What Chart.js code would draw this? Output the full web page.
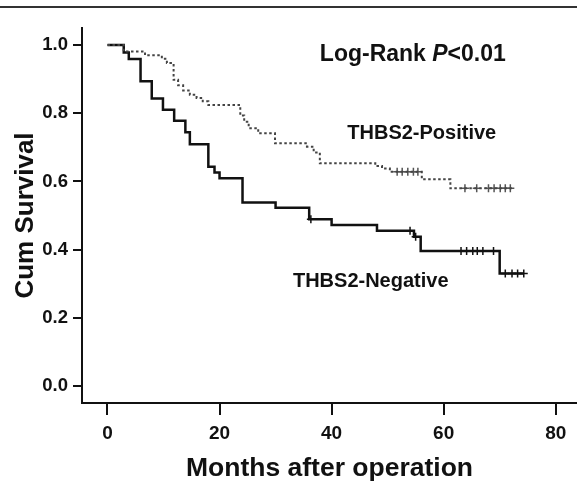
<!DOCTYPE html>
<html>
<head>
<meta charset="utf-8">
<script src="https://cdn.jsdelivr.net/npm/chart.js@4.4.1/dist/chart.umd.min.js"></script>
<style>
  html, body { margin: 0; padding: 0; background: #fff; }
  #wrap { width: 577px; height: 484px; position: relative; }
</style>
</head>
<body>
<div id="wrap"><canvas id="kmChart"></canvas></div>
<script>
// THBS2-Negative: month of each drop, survival right after it (last point = end of follow-up)
const negTimes = [0, 2.9, 3.8, 5.9, 7.9, 9.9, 11.9, 13.9, 14.7, 18.0, 19.1, 20.0, 24.1, 30.0, 36.0, 40.0, 48.1, 54.7, 55.9, 70.0, 74.3];
const negSurv  = [1.0, 0.978, 0.959, 0.894, 0.843, 0.810, 0.778, 0.744, 0.709, 0.643, 0.626, 0.609, 0.538, 0.523, 0.489, 0.472, 0.455, 0.438, 0.396, 0.330, 0.330];
const negCensorTimes = [36.3, 54.0, 55.0, 63.1, 64.1, 65.2, 66.0, 67.0, 68.9, 71.0, 72.2, 73.2, 74.3];
const negCensorSurv  = [0.489, 0.455, 0.438, 0.396, 0.396, 0.396, 0.396, 0.396, 0.396, 0.330, 0.330, 0.330, 0.330];

// THBS2-Positive
const posTimes = [0, 2.9, 6.7, 9.7, 10.6, 11.8, 12.6, 13.5, 14.7, 15.9, 17.0, 18.0, 23.7, 24.4, 25.2, 26.9, 29.9, 35.6, 36.8, 37.9, 47.8, 49.0, 50.4, 56.1, 61.2, 72.4];
const posSurv  = [1.0, 0.981, 0.970, 0.960, 0.947, 0.898, 0.882, 0.867, 0.854, 0.845, 0.835, 0.824, 0.793, 0.775, 0.756, 0.741, 0.712, 0.702, 0.685, 0.653, 0.645, 0.638, 0.628, 0.606, 0.580, 0.580];
const posCensorTimes = [51.7, 52.6, 53.6, 54.6, 55.4, 63.8, 65.9, 68.0, 69.0, 70.1, 71.0, 71.9];
const posCensorSurv  = [0.628, 0.628, 0.628, 0.628, 0.628, 0.580, 0.580, 0.580, 0.580, 0.580, 0.580, 0.580];

const xTicks = [0, 20, 40, 60, 80];
const yTicks = [0.0, 0.2, 0.4, 0.6, 0.8, 1.0];

const FONT = '"Liberation Sans", Arial, sans-serif';

function toPoints(xs, ys) {
    return xs.map((x, i) => ({ x: x, y: ys[i] }));
}

// rule across the top, plus the in-plot texts
const kmLabels = {
    id: 'kmLabels',
    beforeDraw(chart) {
        const ctx = chart.ctx;
        ctx.save();
        ctx.fillStyle = '#333';
        ctx.fillRect(0, 6, chart.width, 2);
        ctx.restore();
    },
    afterDraw(chart) {
        const ctx = chart.ctx;
        const xs = chart.scales.x;
        const ys = chart.scales.y;
        ctx.save();
        ctx.fillStyle = '#111';
        ctx.textBaseline = 'middle';

        // Log-Rank P<0.01
        let x = xs.getPixelForValue(37.9);
        let y = ys.getPixelForValue(0.972);
        ctx.font = 'bold 23px ' + FONT;
        ctx.fillText('Log-Rank ', x, y);
        x += ctx.measureText('Log-Rank ').width;
        ctx.font = 'italic bold 23px ' + FONT;
        ctx.fillText('P', x, y);
        x += ctx.measureText('P').width;
        ctx.font = 'bold 23px ' + FONT;
        ctx.fillText('<0.01', x, y);

        ctx.font = 'bold 20px ' + FONT;
        ctx.fillText('THBS2-Positive', xs.getPixelForValue(42.8), ys.getPixelForValue(0.740));
        ctx.fillText('THBS2-Negative', xs.getPixelForValue(33.1), ys.getPixelForValue(0.305));
        ctx.restore();
    }
};

const ctx = document.getElementById('kmChart').getContext('2d');
const kmChart = new Chart(ctx, {
    type: 'line',
    data: {
        datasets: [{
            label: 'THBS2-Positive',
            data: toPoints(posTimes, posSurv),
            stepped: true,
            borderColor: '#444',
            borderWidth: 2,
            borderDash: [2.5, 2.5],
            pointRadius: 0,
            fill: false
        }, {
            label: 'THBS2-Negative',
            data: toPoints(negTimes, negSurv),
            stepped: true,
            borderColor: '#111',
            borderWidth: 2.5,
            pointRadius: 0,
            fill: false
        }, {
            type: 'scatter',
            label: 'Positive censored',
            data: toPoints(posCensorTimes, posCensorSurv),
            pointStyle: 'cross',
            pointRadius: 4,
            borderColor: '#555',
            borderWidth: 1.5,
            showLine: false
        }, {
            type: 'scatter',
            label: 'Negative censored',
            data: toPoints(negCensorTimes, negCensorSurv),
            pointStyle: 'cross',
            pointRadius: 4,
            borderColor: '#111',
            borderWidth: 1.5,
            showLine: false
        }]
    },
    options: {
        responsive: true,
        maintainAspectRatio: false,
        animation: false,
        layout: {
            autoPadding: false,
            padding: { top: 28, right: 0, bottom: 0, left: 0 }
        },
        scales: {
            x: {
                type: 'linear',
                min: -4.55,
                max: 83.8,
                afterBuildTicks: (scale) => { scale.ticks = xTicks.map(v => ({ value: v })); },
                afterFit: (scale) => {
                    scale.height = 81;
                    scale.paddingLeft = 0;
                    scale.paddingRight = 0;
                },
                border: { display: true, color: '#111', width: 2 },
                grid: {
                    drawOnChartArea: false,
                    drawTicks: true,
                    tickLength: 12,
                    color: '#111',
                    lineWidth: 2
                },
                ticks: {
                    color: '#111',
                    padding: 7,
                    maxRotation: 0,
                    font: { family: FONT, size: 19, weight: 'bold' }
                },
                title: {
                    display: true,
                    text: 'Months after operation',
                    color: '#111',
                    padding: { top: 0, bottom: -1 },
                    font: { family: FONT, size: 26.5, weight: 'bold' }
                }
            },
            y: {
                type: 'linear',
                min: -0.05,
                max: 1.05,
                afterBuildTicks: (scale) => { scale.ticks = yTicks.map(v => ({ value: v })); },
                afterFit: (scale) => { scale.width = 82; },
                border: { display: true, color: '#111', width: 2 },
                grid: {
                    drawOnChartArea: false,
                    drawTicks: true,
                    tickLength: 9,
                    color: '#111',
                    lineWidth: 2
                },
                ticks: {
                    color: '#111',
                    padding: 5,
                    font: { family: FONT, size: 18.5, weight: 'bold' },
                    callback: (v) => Number(v).toFixed(1)
                },
                title: {
                    display: true,
                    text: 'Cum Survival',
                    color: '#111',
                    padding: { top: 10, bottom: 0 },
                    font: { family: FONT, size: 26, weight: 'bold' }
                }
            }
        },
        plugins: {
            legend: { display: false },
            tooltip: { enabled: false }
        }
    },
    plugins: [kmLabels]
});
</script>
</body>
</html>
